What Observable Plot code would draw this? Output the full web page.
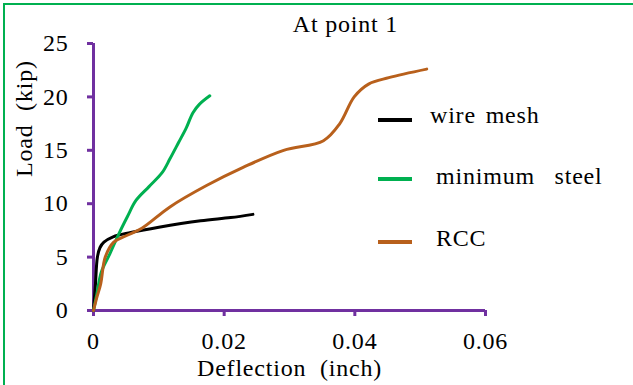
<!DOCTYPE html>
<html>
<head>
<meta charset="utf-8">
<script src="https://cdn.jsdelivr.net/npm/d3@7"></script>
<script src="https://cdn.jsdelivr.net/npm/@observablehq/plot@0.6"></script>
<style>
  html, body { margin: 0; padding: 0; background: #fff; }
  #wrap { position: relative; width: 633px; height: 385px; overflow: hidden; background: #fff; }
  #frame { position: absolute; left: 3px; top: 3px; width: 700px; height: 500px; border-left: 2px solid #00B050; border-top: 2px solid #00B050; }
  #chart { position: absolute; left: 0; top: 0; }
  #chart svg text { letter-spacing: 0.8px; }
  .leg { position: absolute; font-family: "Liberation Serif", serif; font-size: 24px; letter-spacing: 0.8px; word-spacing: 3px; color: #000; white-space: pre; line-height: 1; }
  .sw { position: absolute; width: 34px; height: 4px; }
</style>
</head>
<body>
<div id="wrap">
  <div id="frame"></div>
  <div id="chart"></div>
  <div id="legend"></div>
</div>
<script>
// ---- data ----
const seriesNames = ["wire mesh", "minimum steel", "RCC"];
const seriesColors = ["#000000", "#00B050", "#B8601C"];

const wireX  = [0, 0.0003, 0.0006, 0.001, 0.0016, 0.003, 0.0057, 0.010, 0.0164, 0.021, 0.0244];
const wireY  = [0, 2.5, 5.0, 5.9, 6.4, 6.9, 7.3, 7.8, 8.4, 8.7, 9.0];

const steelX = [0, 0.0005, 0.0012, 0.0025, 0.0039, 0.0052, 0.0065, 0.0085, 0.0105, 0.0117, 0.013, 0.0142, 0.0152, 0.0162, 0.0178];
const steelY = [0, 1.5, 3.6, 5.3, 7.2, 8.8, 10.3, 11.6, 12.9, 14.2, 15.7, 17.1, 18.5, 19.3, 20.1];

const rccX   = [0, 0.0005, 0.0011, 0.0018, 0.0031, 0.005, 0.0074, 0.0117, 0.0173, 0.0229, 0.0291, 0.0352, 0.0377, 0.0399, 0.0421, 0.0452, 0.0510];
const rccY   = [0, 1.2, 2.5, 5.0, 6.4, 7.0, 7.7, 9.7, 11.7, 13.4, 15.0, 15.9, 17.5, 20.0, 21.2, 21.8, 22.6];

const xTicks = [0, 0.02, 0.04, 0.06];
const yTicks = [0, 5, 10, 15, 20, 25];

const titleText = "At point 1";
const xLabel = "Deflection  (inch)";
const yLabel = "Load  (kip)";
const legendLabels = ["wire mesh", "minimum  steel", "RCC"];

// ---- build table ----
const toRows = (xs, ys, name) => xs.map((x, i) => ({x, y: ys[i], series: name}));
const rows = [
  ...toRows(wireX, wireY, seriesNames[0]),
  ...toRows(steelX, steelY, seriesNames[1]),
  ...toRows(rccX, rccY, seriesNames[2])
];

const purple = "#7030A0";

const chart = Plot.plot({
  width: 633,
  height: 385,
  marginLeft: 93,
  marginRight: 148,
  marginTop: 43,
  marginBottom: 75,
  style: { fontFamily: "'Liberation Serif', serif", fontSize: "24px", color: "#000", background: "transparent", overflow: "visible" },
  x: { domain: [0, 0.06] },
  y: { domain: [0, 25] },
  color: { domain: seriesNames, range: seriesColors },
  marks: [
    Plot.axisX({ ticks: xTicks, tickFormat: d => String(d), tickSize: 6, tickPadding: 15, stroke: purple, strokeWidth: 3, fill: "#000", label: null }),
    Plot.axisY({ ticks: yTicks, tickFormat: d => String(d), tickSize: 6, tickPadding: 19, stroke: purple, strokeWidth: 3, fill: "#000", label: null }),
    Plot.ruleY([0], { stroke: purple, strokeWidth: 3 }),
    Plot.ruleX([0], { stroke: purple, strokeWidth: 3 }),
    Plot.line(rows, { x: "x", y: "y", z: "series", stroke: "series", strokeWidth: 3, curve: "catmull-rom" }),
    Plot.text([titleText], { frameAnchor: "top", dx: 56, dy: -19, lineAnchor: "middle", fill: "#000" }),
    Plot.text([xLabel], { frameAnchor: "bottom", dy: 58, lineAnchor: "middle", fill: "#000" }),
    Plot.text([yLabel], { frameAnchor: "left", dx: -69, rotate: -90, lineAnchor: "middle", fill: "#000" })
  ]
});
document.getElementById("chart").appendChild(chart);

// ---- legend (HTML overlay) ----
const legend = document.getElementById("legend");
const legendLayout = [
  { swY: 118, textX: 430, textY: 103 },
  { swY: 177, textX: 436, textY: 164 },
  { swY: 240, textX: 436, textY: 226 }
];
legendLayout.forEach((l, i) => {
  const sw = document.createElement("div");
  sw.className = "sw";
  sw.style.left = "378px";
  sw.style.top = l.swY + "px";
  sw.style.background = seriesColors[i];
  legend.appendChild(sw);
  const t = document.createElement("div");
  t.className = "leg";
  t.style.left = l.textX + "px";
  t.style.top = l.textY + "px";
  t.textContent = legendLabels[i];
  legend.appendChild(t);
});
</script>
</body>
</html>
